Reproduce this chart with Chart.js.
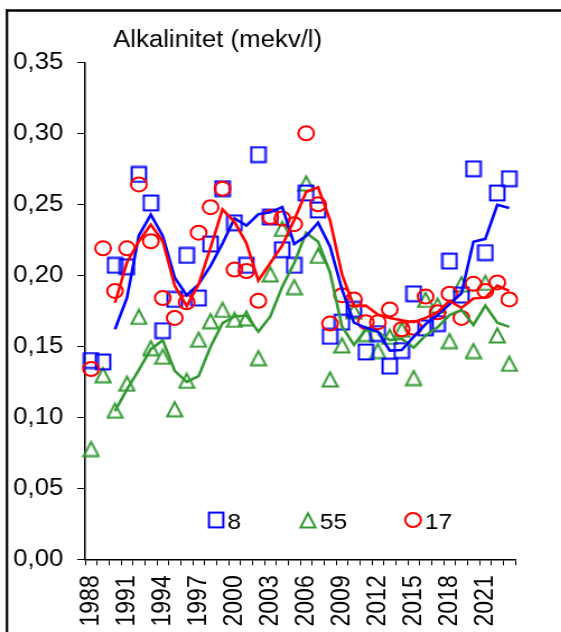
<!DOCTYPE html>
<html>
<head>
<meta charset="utf-8">
<script src="https://cdn.jsdelivr.net/npm/chart.js@4/dist/chart.umd.min.js"></script>
<style>
  html, body { margin: 0; padding: 0; background: #fff; overflow: hidden; }
  #wrap { width: 501px; height: 632px; transform: scaleX(1.12); transform-origin: 0 0; }
  canvas { display: block; }
</style>
</head>
<body>
<div id="wrap"><canvas id="chart" width="501" height="632"></canvas></div>
<script>
// Sampling years
const years = ['1988','1989','1990','1991','1992','1993','1994','1995','1996','1997',
               '1998','1999','2000','2001','2002','2003','2004','2005','2006','2007',
               '2008','2009','2010','2011','2012','2013','2014','2015','2016','2017',
               '2018','2019','2020','2021','2022','2023'];

// Year labels printed under the axis
const yearTickLabels = ['1988','1991','1994','1997','2000','2003','2006','2009','2012','2015','2018','2021'];

// Alkalinity (mekv/l) per station
const station8 = [0.140, 0.139, 0.207, 0.206, 0.271, 0.251, 0.161, 0.183, 0.214, 0.184,
                  0.222, 0.261, 0.237, 0.207, 0.285, 0.241, 0.218, 0.207, 0.258, 0.246,
                  0.157, 0.167, 0.176, 0.146, 0.159, 0.136, 0.147, 0.187, 0.163, 0.166,
                  0.210, 0.186, 0.275, 0.216, 0.258, 0.268];
const station55 = [0.078, 0.130, 0.105, 0.124, 0.171, 0.149, 0.143, 0.106, 0.126, 0.155,
                   0.168, 0.176, 0.169, 0.170, 0.142, 0.201, 0.233, 0.192, 0.265, 0.214,
                   0.127, 0.151, 0.175, 0.159, 0.147, 0.157, 0.162, 0.128, 0.183, 0.179,
                   0.154, 0.194, 0.147, 0.195, 0.158, 0.138];
const station17 = [0.134, 0.219, 0.189, 0.219, 0.264, 0.224, 0.184, 0.170, 0.181, 0.230,
                   0.248, 0.261, 0.204, 0.203, 0.182, 0.241, 0.240, 0.236, 0.300, 0.250,
                   0.166, 0.186, 0.183, 0.167, 0.167, 0.176, 0.162, 0.163, 0.185, 0.174,
                   0.187, 0.170, 0.194, 0.189, 0.195, 0.183];

const stationNames = ['8', '55', '17'];
const chartTitle = 'Alkalinitet (mekv/l)';

const BLUE = '#0000ff', GREEN = '#339933', RED = '#ff0000';
const FONT = '"Liberation Sans", Arial, Helvetica, sans-serif';

// Trailing 3-year moving average trend line
function movingAverage(values, period) {
  return values.map((v, i) => {
    if (i < period - 1) return null;
    let sum = 0;
    for (let j = i - period + 1; j <= i; j++) sum += values[j];
    return sum / period;
  });
}

// Hollow marker glyphs
function squareMarker(color) {
  const c = document.createElement('canvas');
  c.width = 16; c.height = 18;
  const g = c.getContext('2d');
  g.strokeStyle = color; g.lineWidth = 2;
  g.strokeRect(1.6, 1.6, 12.8, 14.8);
  return c;
}
function triangleMarker(color) {
  const c = document.createElement('canvas');
  c.width = 16; c.height = 18;
  const g = c.getContext('2d');
  g.strokeStyle = color; g.lineWidth = 2; g.lineJoin = 'miter';
  g.beginPath();
  g.moveTo(8, 2.4); g.lineTo(14.6, 16.4); g.lineTo(1.4, 16.4); g.closePath();
  g.stroke();
  return c;
}

const squareGlyph = squareMarker(BLUE);
const triangleGlyph = triangleMarker(GREEN);

function markerSet(label, data, color, style, order) {
  return {
    label, data, order,
    showLine: false,
    pointStyle: style,
    pointRadius: 7,
    pointBorderWidth: 2,
    pointBorderColor: color,
    pointBackgroundColor: 'rgba(0,0,0,0)',
    borderColor: color
  };
}
function trendSet(label, data, color, order) {
  return {
    label, order,
    data: movingAverage(data, 3),
    borderColor: color,
    borderWidth: 2.6,
    pointRadius: 0,
    tension: 0,
    fill: false
  };
}

// Frame, heading and marker key drawn onto the canvas
const decorations = {
  id: 'decorations',
  afterDraw(chart) {
    const ctx = chart.ctx;
    ctx.save();
    ctx.strokeStyle = '#000';
    ctx.lineWidth = 2.2;
    ctx.beginPath(); ctx.moveTo(6.2, 9.5); ctx.lineTo(6.2, 640); ctx.stroke();
    ctx.lineWidth = 2.5;
    ctx.beginPath(); ctx.moveTo(5, 10.6); ctx.lineTo(510, 10.6); ctx.stroke();

    ctx.fillStyle = '#000';
    ctx.font = '23px ' + FONT;
    ctx.textBaseline = 'alphabetic';
    ctx.textAlign = 'left';
    ctx.fillText(chartTitle, 101, 46.5);

    ctx.font = '22px ' + FONT;
    const keyY = 520;
    const keyX = [192.6, 275, 368.8];
    const glyphs = [squareGlyph, triangleGlyph, null];
    for (let i = 0; i < 3; i++) {
      const x = keyX[i];
      if (glyphs[i]) {
        ctx.drawImage(glyphs[i], Math.round(x - 8), keyY - 9);
      } else {
        ctx.strokeStyle = RED; ctx.lineWidth = 2;
        ctx.beginPath(); ctx.arc(x, keyY, 7, 0, Math.PI * 2); ctx.stroke();
      }
      ctx.fillStyle = '#000';
      ctx.fillText(stationNames[i], x + 10.5, keyY + 8.5);
    }
    ctx.restore();
  }
};

Chart.defaults.font.family = FONT;
Chart.defaults.color = '#000';

new Chart(document.getElementById('chart'), {
  type: 'line',
  data: {
    labels: years,
    datasets: [
      trendSet('17 trend', station17, RED, 0),
      trendSet('8 trend', station8, BLUE, 1),
      trendSet('55 trend', station55, GREEN, 2),
      markerSet(stationNames[2], station17, RED, 'circle', 3),
      markerSet(stationNames[0], station8, BLUE, squareGlyph, 4),
      markerSet(stationNames[1], station55, GREEN, triangleGlyph, 5)
    ]
  },
  options: {
    responsive: false,
    animation: false,
    events: [],
    layout: { padding: { left: 0, right: 41, top: 62.3, bottom: 0 } },
    plugins: { legend: { display: false }, tooltip: { enabled: false }, title: { display: false } },
    scales: {
      x: {
        offset: true,
        grid: { offset: true, drawOnChartArea: false, drawTicks: true, tickLength: 6, color: '#000', lineWidth: 1 },
        border: { display: true, color: '#000', width: 1.5 },
        ticks: {
          autoSkip: false,
          minRotation: 90, maxRotation: 90,
          padding: 10,
          font: { size: 23 },
          callback: (v, i) => yearTickLabels.includes(years[i]) ? years[i] : ''
        },
        afterFit: (s) => { s.height = 72.7; }
      },
      y: {
        min: 0, max: 0.35,
        grid: { drawOnChartArea: false, drawTicks: true, tickLength: 7, color: '#000', lineWidth: 1 },
        border: { display: true, color: '#000', width: 1.5 },
        ticks: {
          stepSize: 0.05,
          padding: 12.5,
          font: { size: 23 },
          callback: (v) => v.toFixed(2).replace('.', ',')
        },
        afterFit: (s) => { s.width = 76; }
      }
    }
  },
  plugins: [decorations]
});
</script>
</body>
</html>
